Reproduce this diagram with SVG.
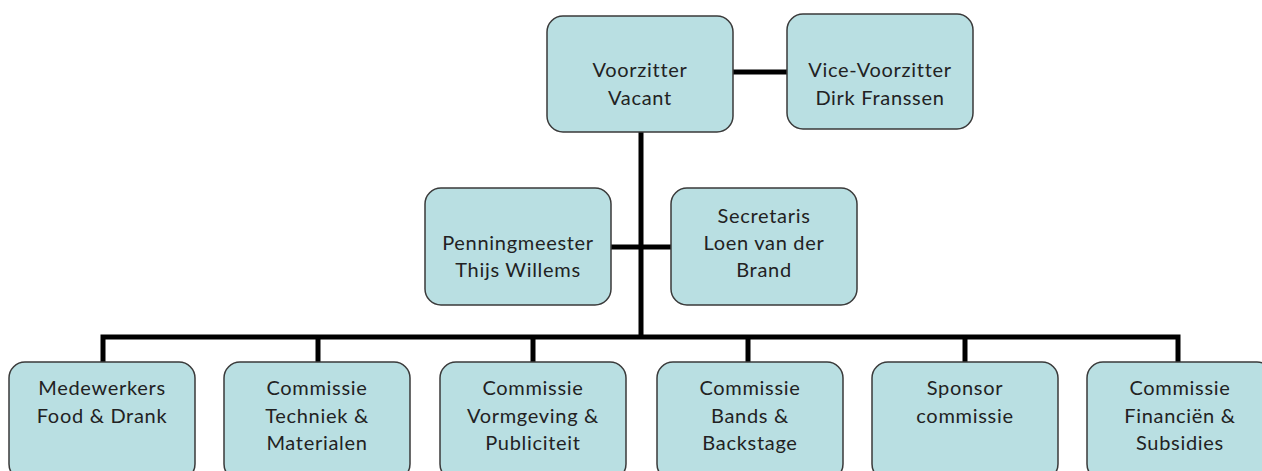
<svg xmlns="http://www.w3.org/2000/svg" width="1262" height="471" viewBox="0 0 1262 471">
<style>
.box{fill:#b9dfe2;stroke:#3a3a3a;stroke-width:1.5}
.t{font-family:Lato,"Open Sans",sans-serif;font-size:20px;letter-spacing:0.7px;fill:#222;text-anchor:middle}
.c{stroke:#000;stroke-width:5;fill:none}
</style>
<rect width="1262" height="471" fill="#fff"/>
<g id="connectors">
<line class="c" x1="733" y1="72" x2="787" y2="72"/>
<line class="c" x1="641" y1="132" x2="641" y2="339"/>
<line class="c" x1="611" y1="247" x2="671" y2="247"/>
<polyline class="c" points="103,362 103,337 1178,337 1178,362"/>
<line class="c" x1="318" y1="337" x2="318" y2="362"/>
<line class="c" x1="533" y1="337" x2="533" y2="362"/>
<line class="c" x1="748" y1="337" x2="748" y2="362"/>
<line class="c" x1="965" y1="337" x2="965" y2="362"/>
</g>
<g id="voorzitter"><rect class="box" x="547" y="16" width="186" height="116" rx="16"/><text class="t" x="640" y="77">Voorzitter</text><text class="t" x="640" y="105">Vacant</text></g>
<g id="vicevoorzitter"><rect class="box" x="787" y="14" width="186" height="115" rx="16"/><text class="t" x="880" y="77">Vice-Voorzitter</text><text class="t" x="880" y="105">Dirk Franssen</text></g>
<g id="penningmeester"><rect class="box" x="425" y="188" width="186" height="117" rx="16"/><text class="t" x="518" y="250">Penningmeester</text><text class="t" x="518" y="277">Thijs Willems</text></g>
<g id="secretaris"><rect class="box" x="671" y="188" width="186" height="117" rx="16"/><text class="t" x="764" y="223">Secretaris</text><text class="t" x="764" y="250">Loen van der</text><text class="t" x="764" y="277">Brand</text></g>
<g id="medewerkers"><rect class="box" x="9" y="362" width="186" height="118" rx="16"/><text class="t" x="102" y="395">Medewerkers</text><text class="t" x="102" y="423">Food &amp; Drank</text></g>
<g id="techniek"><rect class="box" x="224" y="362" width="186" height="118" rx="16"/><text class="t" x="317" y="395">Commissie</text><text class="t" x="317" y="423">Techniek &amp;</text><text class="t" x="317" y="450">Materialen</text></g>
<g id="vormgeving"><rect class="box" x="440" y="362" width="186" height="118" rx="16"/><text class="t" x="533" y="395">Commissie</text><text class="t" x="533" y="423">Vormgeving &amp;</text><text class="t" x="533" y="450">Publiciteit</text></g>
<g id="bands"><rect class="box" x="657" y="362" width="186" height="118" rx="16"/><text class="t" x="750" y="395">Commissie</text><text class="t" x="750" y="423">Bands &amp;</text><text class="t" x="750" y="450">Backstage</text></g>
<g id="sponsor"><rect class="box" x="872" y="362" width="186" height="118" rx="16"/><text class="t" x="965" y="395">Sponsor</text><text class="t" x="965" y="423">commissie</text></g>
<g id="financien"><rect class="box" x="1087" y="362" width="186" height="118" rx="16"/><text class="t" x="1180" y="395">Commissie</text><text class="t" x="1180" y="423">Financiën &amp;</text><text class="t" x="1180" y="450">Subsidies</text></g>
</svg>
